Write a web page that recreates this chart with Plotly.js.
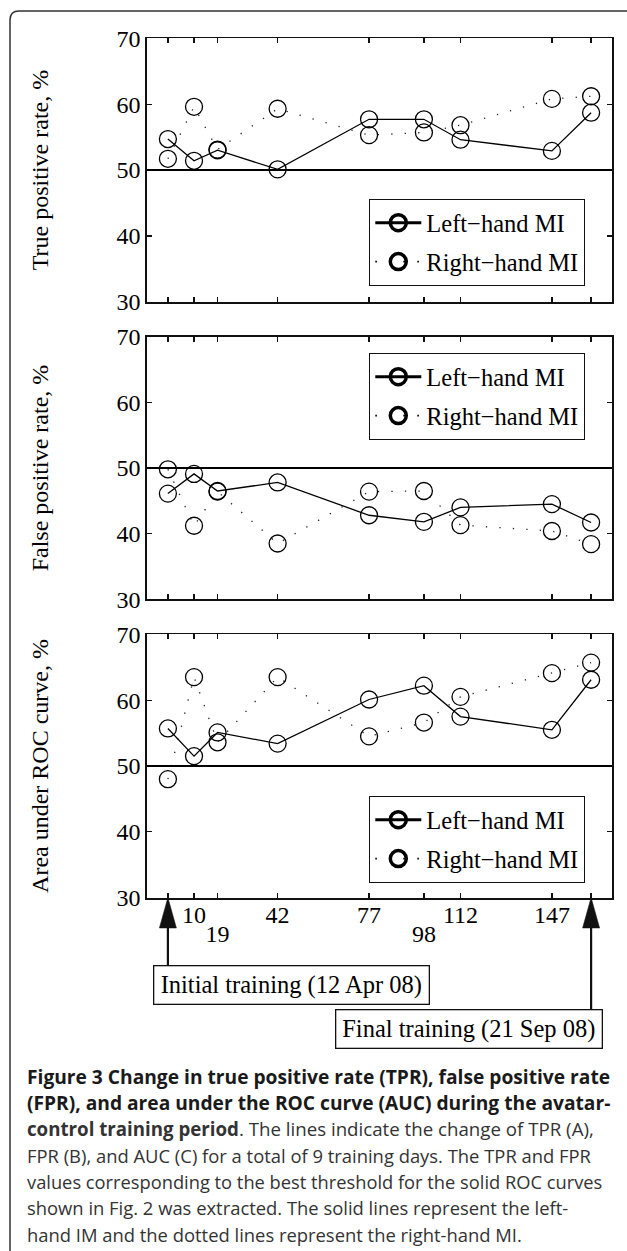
<!DOCTYPE html>
<html>
<head>
<meta charset="utf-8">
<script src="https://cdn.plot.ly/plotly-3.0.1.min.js"></script>
<style>html,body{margin:0;padding:0;background:#fff;}#chart{width:627px;height:1251px;}</style>
</head>
<body>
<div id="chart"></div>
<script>
// ---- data ----
const days = [0, 10, 19, 42, 77, 98, 112, 147, 162];
const tickRow1 = ['', '10', '', '42', '77', '', '112', '147', ''];
const tickRow2Vals = [19, 98];
const tickRow2Text = ['19', '98'];
const yTicks = [30, 40, 50, 60, 70];

const tprLeft  = [54.7, 51.4, 53.0, 50.1, 57.7, 57.7, 54.6, 52.9, 58.7];
const tprRight = [51.7, 59.6, 53.1, 59.3, 55.3, 55.7, 56.8, 60.8, 61.2];
const fprLeft  = [46.1, 49.1, 46.5, 47.8, 42.8, 41.8, 44.0, 44.5, 41.7];
const fprRight = [49.8, 41.2, 46.4, 38.5, 46.4, 46.5, 41.3, 40.4, 38.4];
const aucLeft  = [55.7, 51.5, 55.1, 53.4, 60.1, 62.2, 57.5, 55.5, 63.1];
const aucRight = [48.0, 63.5, 53.6, 63.5, 54.5, 56.6, 60.5, 64.1, 65.7];

const seriesNames = ['Left\u2212hand MI', 'Right\u2212hand MI'];
const yTitles = ['True positive rate, %', 'False positive rate, %', 'Area under ROC curve, %'];
const boxTexts = ['Initial training (12 Apr 08)', 'Final training (21 Sep 08)'];
const captionLines = [
  '<b>Figure 3 Change in true positive rate (TPR), false positive rate</b>',
  '<b>(FPR), and area under the ROC curve (AUC) during the avatar-</b>',
  '<b>control training period</b>. The lines indicate the change of TPR (A),',
  'FPR (B), and AUC (C) for a total of 9 training days. The TPR and FPR',
  'values corresponding to the best threshold for the solid ROC curves',
  'shown in Fig. 2 was extracted. The solid lines represent the left-',
  'hand IM and the dotted lines represent the right-hand MI.'
];

// ---- geometry helpers (pixel -> paper) ----
const W = 627, H = 1251;
const M = {l: 147, r: 15, t: 38, b: 353};
const PW = W - M.l - M.r, PH = H - M.t - M.b;
const px = v => (v - M.l) / PW;
const py = v => (H - M.b - v) / PH;

const SERIF = 'Liberation Serif, Times New Roman, serif';
const DOT = '1.3px,12.2px';

const panels = [
  {left: tprLeft, right: tprRight, dom: [py(301.7), py(38.3)], leg: 'legend',  legTop: 199},
  {left: fprLeft, right: fprRight, dom: [py(599.3), py(336.7)], leg: 'legend2', legTop: 353},
  {left: aucLeft, right: aucRight, dom: [py(897.7), py(634.3)], leg: 'legend3', legTop: 796}
];

const traces = [];
const layout = {
  width: W, height: H, margin: M,
  paper_bgcolor: '#fff', plot_bgcolor: '#fff',
  font: {family: SERIF, size: 24, color: '#000'},
  showlegend: true,
  shapes: [], annotations: []
};

panels.forEach((p, i) => {
  const n = i + 1;
  const xa = n === 1 ? 'x' : 'x' + n;
  const ya = n === 1 ? 'y' : 'y' + n;
  traces.push({
    x: days, y: p.left, xaxis: xa, yaxis: ya, type: 'scatter', mode: 'lines+markers',
    line: {color: '#000', width: 1.3},
    marker: {symbol: 'circle-open', size: 17, color: '#000', line: {width: 1.3}},
    showlegend: false, hoverinfo: 'skip'
  });
  traces.push({
    x: days, y: p.right, xaxis: xa, yaxis: ya, type: 'scatter', mode: 'lines+markers',
    line: {color: '#222', width: 1.3, dash: DOT},
    marker: {symbol: 'circle-open', size: 17, color: '#000', line: {width: 1.3}},
    showlegend: false, hoverinfo: 'skip'
  });
  // legend entries (bold symbols as in the figure)
  traces.push({
    x: [null], y: [null], xaxis: xa, yaxis: ya, type: 'scatter', mode: 'lines+markers',
    name: seriesNames[0], legend: p.leg, legendgroup: 'L' + n,
    line: {color: '#000', width: 3},
    marker: {symbol: 'circle-open', size: 16, color: '#000', line: {width: 3.5}}
  });
  traces.push({
    x: [null], y: [null], xaxis: xa, yaxis: ya, type: 'scatter', mode: 'lines+markers',
    name: seriesNames[1], legend: p.leg, legendgroup: 'R' + n,
    line: {color: '#000', width: 1.6, dash: '1.6px,12.4px'},
    marker: {symbol: 'circle-open', size: 16, color: '#000', line: {width: 3.5}}
  });

  const axCommon = {
    ticks: 'inside', ticklen: 5, tickwidth: 1.3, tickcolor: '#111',
    showline: true, linecolor: '#111', linewidth: 1.8, mirror: 'ticks',
    showgrid: false, zeroline: false, fixedrange: true,
    tickfont: {family: SERIF, size: 24, color: '#000'}
  };
  layout[n === 1 ? 'xaxis' : 'xaxis' + n] = Object.assign({}, axCommon, {
    domain: [0, 1], anchor: ya, range: [-8, 170],
    tickmode: 'array', tickvals: days, ticktext: tickRow1,
    showticklabels: n === 3, ticklabelstandoff: -5
  });
  layout[n === 1 ? 'yaxis' : 'yaxis' + n] = Object.assign({}, axCommon, {
    domain: p.dom, anchor: xa, range: [30, 70],
    tickmode: 'array', tickvals: yTicks,
    title: {text: yTitles[i], font: {family: SERIF, size: 24, color: '#000'}, standoff: 61}
  });
  layout[p.leg] = {
    x: px(369), y: py(p.legTop), xanchor: 'left', yanchor: 'top',
    bgcolor: '#fff', bordercolor: '#111', borderwidth: 1.3,
    font: {family: SERIF, size: 24.5, color: '#000'},
    itemwidth: 46, tracegroupgap: 4, traceorder: 'grouped'
  };
  layout.shapes.push({
    type: 'line', xref: xa + ' domain', x0: 0, x1: 1, yref: ya, y0: 50, y1: 50,
    line: {color: '#000', width: 1.8}
  });
});

// second row of x tick labels (19, 98)
layout.xaxis4 = {
  overlaying: 'x3', anchor: 'y3', range: [-8, 170], side: 'bottom',
  tickmode: 'array', tickvals: tickRow2Vals, ticktext: tickRow2Text,
  ticks: '', showline: false, showgrid: false, zeroline: false, fixedrange: true,
  ticklabelstandoff: 19,
  tickfont: {family: SERIF, size: 24, color: '#000'}
};
traces.push({x: [null], y: [null], xaxis: 'x4', yaxis: 'y3', type: 'scatter', mode: 'markers', showlegend: false, hoverinfo: 'skip'});

// arrows from the boxes to the first and last training day
const arrowEnds = [{day: days[0], tail: 965}, {day: days[days.length - 1], tail: 1009}];
arrowEnds.forEach(a => {
  layout.shapes.push({
    type: 'line', xref: 'x3', yref: 'paper', x0: a.day, x1: a.day, y0: py(a.tail), y1: py(926),
    line: {color: '#111', width: 2.2}
  });
  layout.shapes.push({
    type: 'path', xref: 'x3', yref: 'paper', xsizemode: 'pixel', xanchor: a.day,
    path: 'M -8.5,' + py(928) + ' L 8.5,' + py(928) + ' L 0,' + py(897.5) + ' Z',
    fillcolor: '#111', line: {color: '#111', width: 0.5}
  });
});

// boxed labels
const boxes = [
  {cx: (153.3 + 430) / 2, cy: 984.7, w: 274},
  {cx: (334.5 + 602.8) / 2, cy: 1028.7, w: 265}
];
boxes.forEach((b, i) => {
  layout.annotations.push({
    xref: 'paper', yref: 'paper', x: px(b.cx), y: py(b.cy), xanchor: 'center', yanchor: 'middle',
    text: boxTexts[i], showarrow: false, width: b.w, height: 37, align: 'center', valign: 'middle',
    bordercolor: '#111', borderwidth: 1.3, borderpad: 0, bgcolor: '#fff',
    font: {family: SERIF, size: 24.5, color: '#000'}
  });
});

// caption
const capY = [1076, 1102, 1128.3, 1155, 1181.5, 1207.5, 1234];
const capSize = [19.2, 19.2, 18.7, 18.4, 18.3, 18.4, 18.4];
captionLines.forEach((t, i) => {
  layout.annotations.push({
    xref: 'paper', yref: 'paper', x: px(25), y: py(capY[i]), xanchor: 'left', yanchor: 'middle',
    text: t, showarrow: false, align: 'left',
    font: {family: 'Open Sans, Noto Sans, sans-serif', size: capSize[i], color: i < 2 ? '#1a1a1a' : '#333'}
  });
});

// rounded outer frame (left/top edges visible)
const r = 9;
layout.shapes.push({
  type: 'path', xref: 'paper', yref: 'paper', layer: 'below',
  path: 'M ' + px(640) + ',' + py(11) + ' L ' + px(10 + r) + ',' + py(11) +
        ' Q ' + px(10) + ',' + py(11) + ' ' + px(10) + ',' + py(11 + r) +
        ' L ' + px(10) + ',' + py(1262),
  line: {color: '#333', width: 1.5}
});

Plotly.newPlot('chart', traces, layout, {displayModeBar: false, staticPlot: true});
</script>
</body>
</html>
